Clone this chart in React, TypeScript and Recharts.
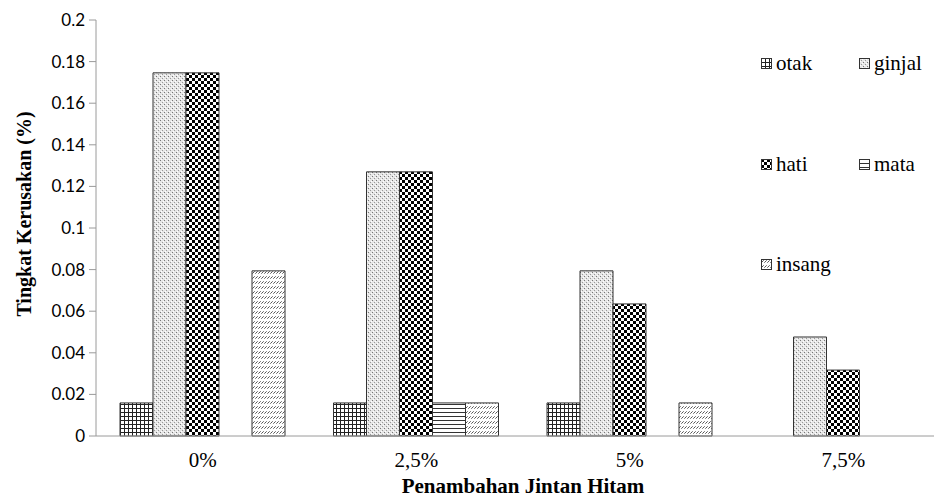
import React from 'react';
import { BarChart, Bar, XAxis, YAxis } from 'recharts';

const categories = ['0%', '2,5%', '5%', '7,5%'];
const otak = [0.0159, 0.0159, 0.0159, 0];
const ginjal = [0.1746, 0.127, 0.0794, 0.0476];
const hati = [0.1746, 0.127, 0.0635, 0.0317];
const mata = [0, 0.0159, 0, 0];
const insang = [0.0794, 0.0159, 0.0159, 0];
const yTicks = [0, 0.02, 0.04, 0.06, 0.08, 0.1, 0.12, 0.14, 0.16, 0.18, 0.2];

const data = categories.map((name, i) => ({
  name,
  otak: otak[i],
  ginjal: ginjal[i],
  hati: hati[i],
  mata: mata[i],
  insang: insang[i],
}));

const seriesKeys = ['otak', 'ginjal', 'hati', 'mata', 'insang'];
const SERIF = '"Liberation Serif", serif';
const AXIS = '#9a9a9a';

// legend slots: two columns, three rows
const legendPos = [
  { left: 761, top: 51 },
  { left: 859, top: 51 },
  { left: 761, top: 152 },
  { left: 859, top: 152 },
  { left: 761, top: 252 },
];

const Patterns = () => (
  <defs>
    <pattern id="pat-otak" width="4" height="4" patternUnits="userSpaceOnUse">
      <rect width="4" height="4" fill="#fff" />
      <path d="M0 0.5H4M0.5 0V4" stroke="#222" strokeWidth="1" />
    </pattern>
    <pattern id="pat-ginjal" width="4" height="4" patternUnits="userSpaceOnUse">
      <rect width="4" height="4" fill="#e6e6e6" />
      <rect x="0" y="0" width="1" height="1" fill="#777" />
      <rect x="2" y="2" width="1" height="1" fill="#999" />
      <rect x="3" y="1" width="1" height="1" fill="#fff" />
      <rect x="1" y="3" width="1" height="1" fill="#fff" />
    </pattern>
    <pattern id="pat-hati" width="6" height="6" patternUnits="userSpaceOnUse">
      <rect width="6" height="6" fill="#fff" />
      <rect x="0" y="0" width="3" height="3" fill="#000" />
      <rect x="3" y="3" width="3" height="3" fill="#000" />
    </pattern>
    <pattern id="pat-mata" width="4" height="4" patternUnits="userSpaceOnUse">
      <rect width="4" height="4" fill="#fff" />
      <path d="M0 0.5H4" stroke="#333" strokeWidth="1" />
    </pattern>
    <pattern id="pat-insang" width="3" height="5" patternUnits="userSpaceOnUse">
      <rect width="3" height="5" fill="#fff" />
      <path d="M0.3 3.7L2.7 1.3" stroke="#555" strokeWidth="1" />
    </pattern>
  </defs>
);

const YTitle = (props: any) => {
  const vb = props.viewBox || {};
  const cx = 24;
  const cy = (vb.y ?? 20) + (vb.height ?? 416) / 2 - 14;
  return (
    <text
      x={cx}
      y={cy}
      transform={`rotate(-90, ${cx}, ${cy})`}
      textAnchor="middle"
      dominantBaseline="central"
      fontFamily={SERIF}
      fontWeight="bold"
      fontSize={20}
      fill="#000"
    >
      Tingkat Kerusakan (%)
    </text>
  );
};

const XTitle = (props: any) => {
  const vb = props.viewBox || {};
  const cx = (vb.x ?? 96) + (vb.width ?? 854) / 2;
  return (
    <text x={cx} y={493} textAnchor="middle" fontFamily={SERIF} fontWeight="bold" fontSize={21} fill="#000">
      Penambahan Jintan Hitam
    </text>
  );
};

export default function App() {
  return (
    <div style={{ position: 'relative', margin: -8, width: 942, height: 503, overflow: 'hidden', background: '#fff' }}>
      <BarChart
        width={950}
        height={503}
        data={data}
        margin={{ top: 20, right: 0, bottom: 0, left: 0 }}
        barGap={0}
      >
        <Patterns />
        <XAxis
          dataKey="name"
          height={67}
          tickLine={false}
          tickSize={0}
          tickMargin={16}
          stroke={AXIS}
          tick={{ fontFamily: SERIF, fontSize: 21, fill: '#000' }}
          label={<XTitle />}
        />
        <YAxis
          width={96}
          domain={[0, 0.2]}
          ticks={yTicks}
          interval={0}
          tickSize={7}
          tickMargin={4}
          stroke={AXIS}
          tick={{ fontFamily: 'Lato', fontSize: 17, fill: '#000' }}
          label={<YTitle />}
        />
        {seriesKeys.map((k) => (
          <Bar
            key={k}
            dataKey={k}
            barSize={33}
            fill={`url(#pat-${k})`}
            stroke="#333"
            strokeWidth={1}
            isAnimationActive={false}
          />
        ))}
      </BarChart>
      {seriesKeys.map((k, i) => (
        <div
          key={k}
          style={{
            position: 'absolute',
            left: legendPos[i].left,
            top: legendPos[i].top,
            display: 'flex',
            alignItems: 'center',
            fontFamily: SERIF,
            fontSize: 21,
            color: '#000',
            lineHeight: '24px',
          }}
        >
          <svg width={11} height={11} style={{ marginRight: 4 }}>
            <rect x={0.5} y={0.5} width={10} height={10} fill={`url(#pat-${k})`} stroke="#333" />
          </svg>
          {k}
        </div>
      ))}
    </div>
  );
}
